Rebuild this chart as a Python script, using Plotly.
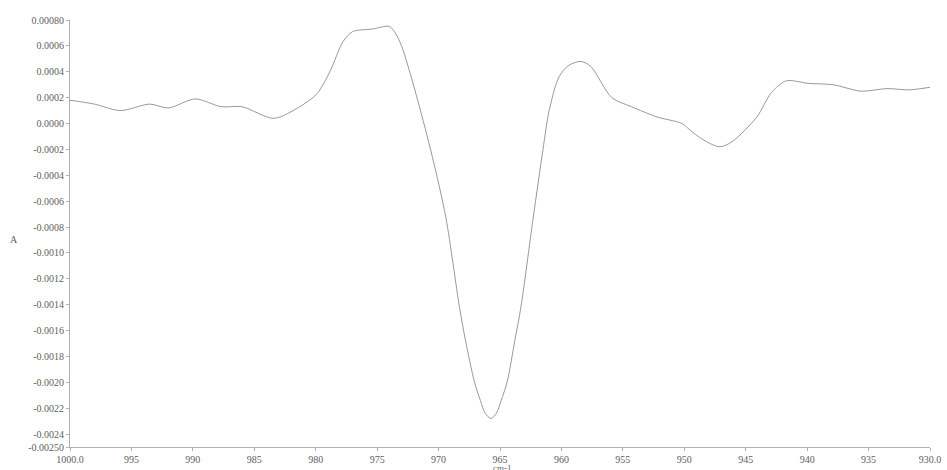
import plotly.graph_objects as go

wavenumber = [1000.0, 998.0, 995.9, 993.5, 992.0, 989.8, 987.7, 986.0, 983.4, 981.3, 979.9, 978.8,
              977.8, 977.0, 975.4, 974.0, 973.4, 972.9, 971.7, 970.5, 969.4, 968.3, 967.8, 967.1,
              966.6, 966.2, 965.75, 965.3, 964.9, 964.4, 963.8, 963.3, 962.3, 961.5, 961.0, 960.2,
              959.4, 958.4, 957.6, 955.9, 954.3, 952.2, 950.2, 949.3, 948.2, 947.1, 946.1, 944.1,
              942.9, 941.7, 939.9, 937.9, 935.6, 933.5, 931.7, 930.0]
absorbance = [0.00018, 0.00015, 0.00010, 0.00015, 0.00012, 0.00019, 0.00013, 0.00013, 0.00004, 0.00013,
              0.00023, 0.00041, 0.00063, 0.00071, 0.00073, 0.00075, 0.00068, 0.00057, 0.00018, -0.00026,
              -0.00073, -0.00142, -0.00168, -0.00199, -0.00214, -0.00224, -0.00228, -0.00224, -0.00214,
              -0.00199, -0.00168, -0.00142, -0.00073, -0.00020, 0.00010, 0.00036, 0.00045, 0.00048,
              0.00044, 0.00020, 0.00013, 0.00005, 0.00000, -0.00007, -0.00014, -0.00018, -0.00014,
              0.00005, 0.00024, 0.00033, 0.00031, 0.00030, 0.00025, 0.00027, 0.00026, 0.00028]

x_tick_vals = [1000, 995, 990, 985, 980, 975, 970, 965, 960, 955, 950, 945, 940, 935, 930]
x_tick_text = ["1000.0", "995", "990", "985", "980", "975", "970", "965", "960", "955", "950",
               "945", "940", "935", "930.0"]
y_tick_vals = [0.0008, 0.0006, 0.0004, 0.0002, 0.0, -0.0002, -0.0004, -0.0006, -0.0008, -0.0010,
               -0.0012, -0.0014, -0.0016, -0.0018, -0.0020, -0.0022, -0.0024, -0.0025]
y_tick_text = ["0.00080", "0.0006", "0.0004", "0.0002", "0.0000", "-0.0002", "-0.0004", "-0.0006",
               "-0.0008", "-0.0010", "-0.0012", "-0.0014", "-0.0016", "-0.0018", "-0.0020", "-0.0022",
               "-0.0024", "-0.00250"]

fig = go.Figure()
fig.add_trace(go.Scatter(x=wavenumber, y=absorbance, mode="lines",
                         line=dict(color="#999999", width=1, shape="spline", smoothing=0.8),
                         hoverinfo="skip", showlegend=False))

font = dict(family="Liberation Serif, Times New Roman, serif", size=10, color="#606060")
axis_common = dict(showgrid=False, zeroline=False, showline=True, linecolor="#b0b0b0", linewidth=1,
                   ticks="outside", ticklen=3, tickcolor="#b0b0b0", tickfont=font, automargin=False)
fig.update_layout(
    width=947, height=470,
    margin=dict(l=70, r=17, t=20, b=23),
    paper_bgcolor="white", plot_bgcolor="white",
    font=font,
    xaxis=dict(range=[1000, 930], tickvals=x_tick_vals, ticktext=x_tick_text, **axis_common),
    yaxis=dict(range=[-0.0025, 0.0008], tickvals=y_tick_vals, ticktext=y_tick_text, **axis_common),
    annotations=[
        dict(text="cm-1", xref="paper", yref="paper", x=0.503, y=-0.049, showarrow=False,
             font=dict(family=font["family"], size=9, color="#606060"),
             xanchor="center", yanchor="middle"),
        dict(text="A", xref="paper", yref="paper", x=-0.065, y=0.487, showarrow=False,
             font=font, xanchor="center", yanchor="middle"),
    ],
)
fig.write_html("out.html", config={"displayModeBar": False},
               post_script="document.body.style.margin='0';document.body.style.overflow='hidden';")
